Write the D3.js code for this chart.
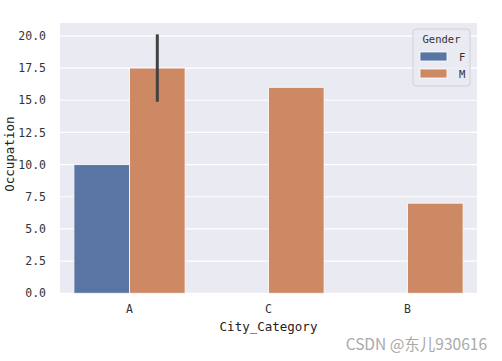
<!DOCTYPE html>
<html><head><meta charset="utf-8">
<script src="https://cdn.jsdelivr.net/npm/d3@7"></script>
<style>body{margin:0;background:#fff}svg{display:block}</style>
</head><body>
<svg id="c" width="502" height="361"></svg>
<script>
const categories = ["A", "C", "B"];
const genders = ["F", "M"];
const valuesF = [10, null, null];
const valuesM = [17.5, 16, 7];
const ciLowM = [15, null, null];
const ciHighM = [20, null, null];
const yTicks = [0, 2.5, 5, 7.5, 10, 12.5, 15, 17.5, 20];
const colors = {F: "#5975a4", M: "#cc8963"};

const svg = d3.select("#c");
const L = 60, R = 477, T = 23, B = 293.3;
const mono = "'DejaVu Sans Mono', 'Liberation Mono', monospace";

const x = d3.scaleBand().domain(categories).range([L, R]).padding(0);
const hx = d3.scaleBand().domain(genders).range([0, x.bandwidth() * 0.8]).padding(0);
const y = d3.scaleLinear().domain([0, 21]).range([B, T]);

svg.append("rect").attr("x", L).attr("y", T).attr("width", R - L).attr("height", B - T).attr("fill", "#eaeaf2");

// grid
svg.append("g").selectAll("line").data(yTicks).join("line")
  .attr("x1", L).attr("x2", R).attr("y1", d => y(d)).attr("y2", d => y(d))
  .attr("stroke", "#fff").attr("stroke-width", 1.2);

// y axis
const yAxis = d3.axisLeft(y).tickValues(yTicks).tickFormat(d3.format(".1f")).tickSize(0).tickPadding(14);
const ya = svg.append("g").attr("transform", `translate(${L},0)`).call(yAxis);
ya.select(".domain").remove();
ya.selectAll("text").attr("font-family", mono).attr("font-size", 11.5).attr("fill", "#333");

// x axis
const xAxis = d3.axisBottom(x).tickSize(0).tickPadding(12);
const xa = svg.append("g").attr("transform", `translate(0,${B})`).call(xAxis);
xa.select(".domain").remove();
xa.selectAll("text").attr("font-family", mono).attr("font-size", 11.5).attr("fill", "#333");

// bars
const rows = [];
categories.forEach((c, i) => {
  if (valuesF[i] != null) rows.push({c, g: "F", v: valuesF[i]});
  if (valuesM[i] != null) rows.push({c, g: "M", v: valuesM[i], lo: ciLowM[i], hi: ciHighM[i]});
});
const off = x.bandwidth() * 0.1;
svg.append("g").selectAll("rect").data(rows).join("rect")
  .attr("x", d => x(d.c) + off + hx(d.g))
  .attr("y", d => y(d.v))
  .attr("width", hx.bandwidth())
  .attr("height", d => y(0) - y(d.v))
  .attr("fill", d => colors[d.g])
  .attr("stroke", "#fff").attr("stroke-width", 1).attr("stroke-opacity", 0.8);

// error bars
svg.append("g").selectAll("line").data(rows.filter(d => d.lo != null)).join("line")
  .attr("x1", d => x(d.c) + off + hx(d.g) + hx.bandwidth() / 2)
  .attr("x2", d => x(d.c) + off + hx(d.g) + hx.bandwidth() / 2)
  .attr("y1", d => y(d.lo)).attr("y2", d => y(d.hi))
  .attr("stroke", "#424242").attr("stroke-width", 3).attr("stroke-linecap", "square");

// axis labels
svg.append("text").attr("x", (L + R) / 2).attr("y", 331).attr("text-anchor", "middle")
  .attr("font-family", mono).attr("font-size", 12.5).attr("fill", "#222").text("City_Category");
svg.append("text").attr("transform", `translate(14,${(T + B) / 2 - 4}) rotate(-90)`).attr("text-anchor", "middle")
  .attr("font-family", mono).attr("font-size", 12.5).attr("fill", "#222").text("Occupation");

// legend
const lg = svg.append("g");
lg.append("rect").attr("x", 413).attr("y", 29).attr("width", 57).attr("height", 57).attr("rx", 3)
  .attr("fill", "#eaeaf2").attr("fill-opacity", 0.8).attr("stroke", "#d0d0d6").attr("stroke-width", 1);
lg.append("text").attr("x", 441.5).attr("y", 43).attr("text-anchor", "middle")
  .attr("font-family", mono).attr("font-size", 10.5).attr("fill", "#333").text("Gender");
genders.forEach((g, i) => {
  lg.append("rect").attr("x", 420).attr("y", 52 + i * 17).attr("width", 27).attr("height", 9)
    .attr("fill", colors[g]).attr("stroke", "#fff").attr("stroke-width", 0.8);
  lg.append("text").attr("x", 459).attr("y", 61 + i * 17)
    .attr("font-family", mono).attr("font-size", 10.5).attr("fill", "#333").text(g);
});

// watermark
svg.append("text").attr("x", 487).attr("y", 350).attr("text-anchor", "end")
  .attr("font-family", "'Noto Sans CJK SC', sans-serif").attr("font-size", 15.5).attr("fill", "#a9a9a9")
  .text("CSDN @东儿930616");
</script>
</body></html>
